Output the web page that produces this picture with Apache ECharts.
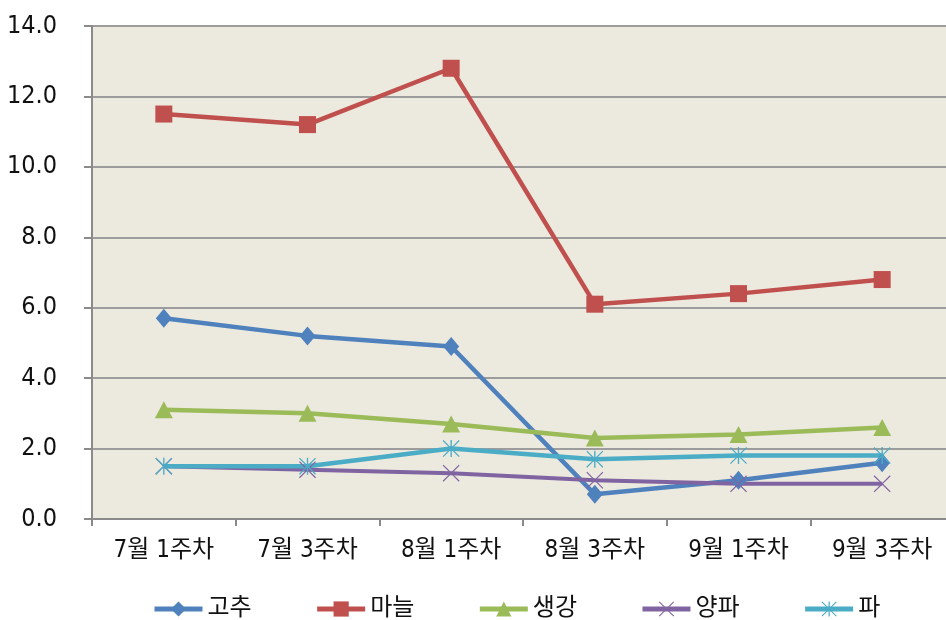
<!DOCTYPE html>
<html>
<head>
<meta charset="utf-8">
<script src="https://cdn.jsdelivr.net/npm/echarts@6/dist/echarts.min.js"></script>
<style>html,body{margin:0;padding:0;background:#fff;overflow:hidden}#c{width:960px;height:620px}</style>
</head>
<body>
<div id="c"></div>
<script>
var categories = ['7월 1주차', '7월 3주차', '8월 1주차', '8월 3주차', '9월 1주차', '9월 3주차'];
var gochu = [5.7, 5.2, 4.9, 0.7, 1.1, 1.6];
var maneul = [11.5, 11.2, 12.8, 6.1, 6.4, 6.8];
var saenggang = [3.1, 3.0, 2.7, 2.3, 2.4, 2.6];
var yangpa = [1.5, 1.4, 1.3, 1.1, 1.0, 1.0];
var pa = [1.5, 1.5, 2.0, 1.7, 1.8, 1.8];
var seriesNames = ['고추', '마늘', '생강', '양파', '파'];
var yTicks = [0, 14, 2];

var FONT = "'Liberation Sans Narrow', 'DejaVu Sans Condensed', 'Noto Sans CJK KR', sans-serif";
var X_PATH = 'path://M1,0L10,9L19,0L20,1L11,10L20,19L19,20L10,11L1,20L0,19L9,10L0,1Z';
var STAR_PATH = 'path://M1,0L10,9L19,0L20,1L11,10L20,19L19,20L10,11L1,20L0,19L9,10L0,1ZM9.2,0L10.8,0L10.8,20L9.2,20Z';

function mk(name, data, color, symbol, size, width) {
  return {
    name: name, type: 'line', data: data,
    symbol: symbol, symbolSize: size,
    lineStyle: {color: color, width: width},
    itemStyle: {color: color, borderWidth: 0},
    emphasis: {disabled: true},
    animation: false
  };
}

var chart = echarts.init(document.getElementById('c'));
chart.setOption({
  animation: false,
  grid: {left: 92, top: 26, width: 862, height: 493, show: true, backgroundColor: '#ECE9DF', borderWidth: 0},
  legend: {
    data: seriesNames,
    left: 147, top: 592,
    itemWidth: 48, itemHeight: 19, itemGap: 63,
    lineStyle: {width: 5},
    textStyle: {fontFamily: FONT, fontSize: 24, color: '#111', padding: [0, 0, 0, 0]}
  },
  xAxis: {
    type: 'category', data: categories, boundaryGap: true,
    axisLine: {lineStyle: {color: '#8a8a8a', width: 2}},
    axisTick: {show: true, length: 7, lineStyle: {color: '#8a8a8a', width: 2}},
    axisLabel: {fontFamily: FONT, fontSize: 24, color: '#111', margin: 20},
    splitLine: {show: false}
  },
  yAxis: {
    type: 'value', min: yTicks[0], max: yTicks[1], interval: yTicks[2],
    axisLine: {show: true, lineStyle: {color: '#8a8a8a', width: 2}},
    axisTick: {show: true, length: 8, lineStyle: {color: '#8a8a8a', width: 2}},
    axisLabel: {fontFamily: FONT, fontSize: 25, color: '#111', margin: 35, formatter: function (v) { return v.toFixed(1); }},
    splitLine: {show: true, lineStyle: {color: '#9c9c9c', width: 2}}
  },
  series: [
    mk(seriesNames[0], gochu, '#4F81BD', 'diamond', [16, 19], 4.5),
    mk(seriesNames[1], maneul, '#C0504D', 'rect', [17, 17], 4.5),
    mk(seriesNames[2], saenggang, '#9BBB59', 'triangle', [18, 17], 4.5),
    mk(seriesNames[3], yangpa, '#8064A2', X_PATH, [17, 17], 4),
    mk(seriesNames[4], pa, '#4BACC6', STAR_PATH, [17, 17], 4.5)
  ]
});
</script>
</body>
</html>
